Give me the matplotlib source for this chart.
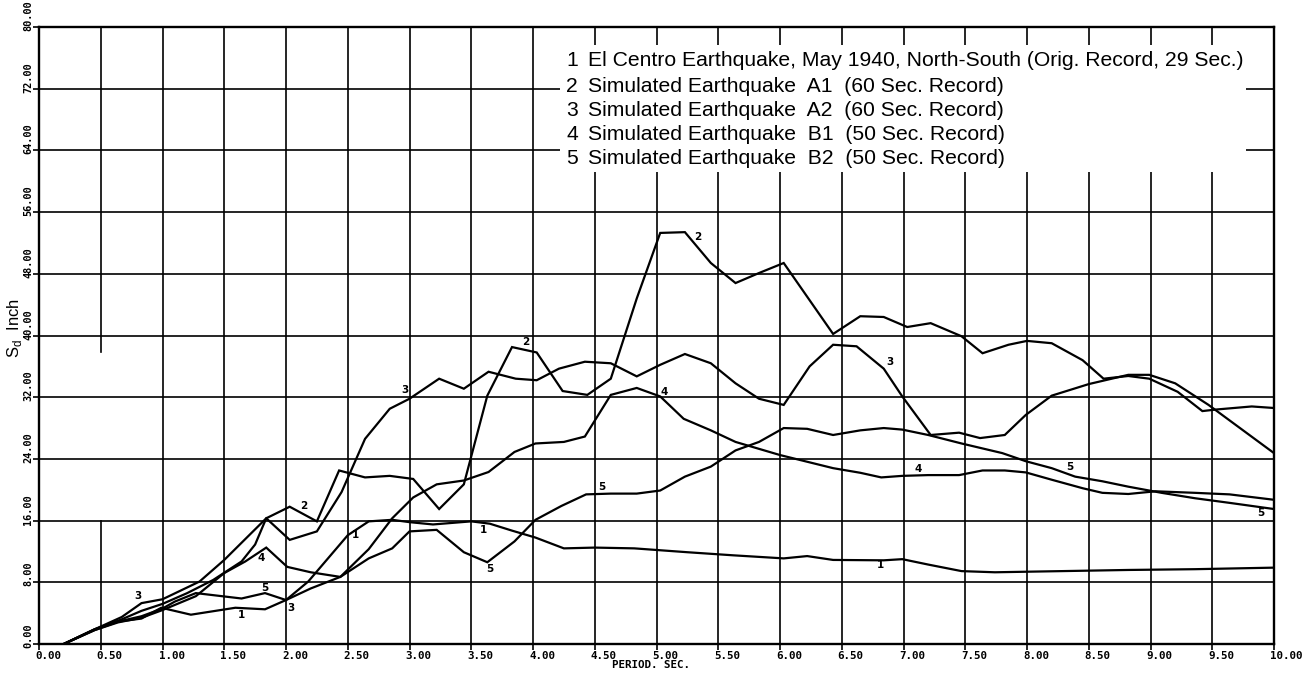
import matplotlib
matplotlib.use('Agg')
import matplotlib.pyplot as plt
from matplotlib.patches import Rectangle
from matplotlib.transforms import ScaledTranslation

# ---- data (period in sec, Sd in inch) ----
# 1 El Centro, May 1940 N-S
t1 = [0.2, 0.45, 0.64, 0.83, 0.99, 1.23, 1.59, 1.83, 2.0, 2.18, 2.34, 2.5, 2.67, 2.86, 3.0,
      3.19, 3.5, 3.65, 3.83, 4.02, 4.25, 4.5, 4.82, 5.25, 5.62, 6.03, 6.22, 6.43, 6.84, 6.99,
      7.2, 7.47, 7.74, 8.28, 8.82, 9.36, 10.0]
sd1 = [0.0, 1.9, 2.9, 3.3, 4.7, 3.8, 4.7, 4.5, 5.7, 8.1, 11.1, 14.1, 15.9, 16.1, 15.8,
       15.5, 15.9, 15.6, 14.7, 13.8, 12.4, 12.5, 12.4, 11.9, 11.5, 11.1, 11.4, 10.9, 10.85, 11.0,
       10.3, 9.45, 9.3, 9.45, 9.6, 9.7, 9.9]

# 2 Simulated A1
t2 = [0.2, 0.45, 0.67, 0.83, 1.0, 1.2, 1.41, 1.64, 1.75, 1.84, 2.03, 2.25, 2.43, 2.64, 2.84,
      3.03, 3.24, 3.44, 3.63, 3.83, 4.03, 4.24, 4.44, 4.63, 4.84, 5.03, 5.23, 5.44, 5.64, 5.83,
      6.03, 6.43, 6.65, 6.84, 7.03, 7.22, 7.47, 7.64, 7.85, 8.0, 8.2, 8.45, 8.62, 8.82, 8.99,
      9.22, 9.42, 9.53, 9.82, 10.0]
sd2 = [0.0, 1.9, 3.2, 4.3, 5.2, 6.6, 8.3, 10.7, 12.9, 16.3, 17.8, 15.9, 22.5, 21.6, 21.8,
       21.4, 17.5, 20.7, 32.2, 38.5, 37.8, 32.8, 32.3, 34.4, 44.8, 53.3, 53.4, 49.4, 46.8, 48.1,
       49.4, 40.2, 42.5, 42.4, 41.1, 41.6, 39.9, 37.7, 38.8, 39.3, 39.0, 36.8, 34.4, 34.75, 34.4,
       32.7, 30.2, 30.4, 30.8, 30.6]

# 3 Simulated A2
t3 = [0.2, 0.45, 0.67, 0.83, 1.0, 1.3, 1.5, 1.84, 2.03, 2.25, 2.45, 2.64, 2.84, 3.0, 3.24,
      3.44, 3.64, 3.86, 4.03, 4.21, 4.42, 4.63, 4.84, 5.03, 5.23, 5.44, 5.64, 5.83, 6.03, 6.24,
      6.43, 6.62, 6.84, 6.99, 7.22, 7.45, 7.62, 7.82, 7.99, 8.2, 8.5, 8.82, 8.99, 9.2, 9.47, 10.0]
sd3 = [0.0, 1.9, 3.5, 5.3, 5.8, 8.1, 10.9, 16.3, 13.5, 14.6, 19.7, 26.6, 30.5, 31.8, 34.4,
       33.1, 35.3, 34.4, 34.2, 35.7, 36.6, 36.4, 34.7, 36.2, 37.6, 36.4, 33.8, 31.8, 31.0, 36.0,
       38.8, 38.6, 35.7, 32.1, 27.1, 27.4, 26.7, 27.1, 29.7, 32.2, 33.7, 34.9, 34.9, 33.8, 31.0, 24.75]

# 4 Simulated B1
t4 = [0.2, 0.45, 0.64, 0.83, 1.0, 1.27, 1.5, 1.67, 1.84, 2.01, 2.2, 2.44, 2.67, 2.86, 3.03,
      3.22, 3.44, 3.64, 3.85, 4.02, 4.25, 4.42, 4.63, 4.84, 5.03, 5.22, 5.44, 5.64, 6.0, 6.43,
      6.65, 6.82, 6.99, 7.2, 7.45, 7.64, 7.82, 7.99, 8.2, 8.45, 8.61, 8.82, 9.04, 9.36, 9.64, 10.0]
sd4 = [0.0, 1.8, 2.8, 3.4, 4.4, 6.2, 9.2, 10.7, 12.5, 10.0, 9.3, 8.7, 12.3, 16.3, 19.0,
       20.7, 21.2, 22.3, 24.9, 26.0, 26.2, 26.9, 32.3, 33.2, 32.1, 29.2, 27.7, 26.2, 24.5, 22.8,
       22.2, 21.6, 21.8, 21.9, 21.9, 22.5, 22.5, 22.25, 21.3, 20.2, 19.6, 19.45, 19.8, 19.6, 19.4, 18.7]

# 5 Simulated B2
t5 = [0.2, 0.45, 0.64, 0.83, 1.0, 1.1, 1.27, 1.64, 1.83, 2.0, 2.2, 2.44, 2.67, 2.86, 3.0,
      3.22, 3.44, 3.63, 3.85, 4.02, 4.23, 4.43, 4.63, 4.84, 5.03, 5.23, 5.44, 5.64, 5.83, 6.03,
      6.22, 6.43, 6.65, 6.84, 6.99, 7.2, 7.47, 7.8, 7.99, 8.2, 8.39, 8.61, 8.82, 9.09, 9.36,
      9.64, 10.0]
sd5 = [0.0, 1.8, 2.9, 3.6, 4.6, 5.5, 6.6, 5.9, 6.6, 5.7, 7.2, 8.7, 11.1, 12.4, 14.6,
       14.8, 11.9, 10.6, 13.3, 16.1, 17.9, 19.4, 19.5, 19.5, 19.9, 21.7, 23.0, 25.1, 26.2, 28.0,
       27.9, 27.1, 27.7, 28.0, 27.8, 27.1, 26.0, 24.75, 23.7, 22.8, 21.7, 21.1, 20.4, 19.6, 18.9,
       18.3, 17.5]

# small curve numbers written along the lines
tag_x = [0.8, 1.64, 1.83, 1.8, 2.04, 2.14, 2.56, 2.96, 3.6, 3.65, 3.94, 4.56, 5.06, 5.33,
         6.89, 6.81, 7.12, 8.35, 9.89]
tag_y = [6.2, 3.8, 7.25, 11.15, 4.65, 17.95, 14.1, 32.9, 14.8, 9.7, 39.1, 20.4, 32.7, 52.8,
         36.5, 10.3, 22.7, 23.0, 17.0]
tag_txt = ['3', '1', '5', '4', '3', '2', '1', '3', '1', '5', '2', '5', '4', '2',
           '3', '1', '4', '5', '5']

legend_lines = ['El Centro Earthquake, May 1940, North-South (Orig. Record, 29 Sec.)',
                'Simulated Earthquake  A1  (60 Sec. Record)',
                'Simulated Earthquake  A2  (60 Sec. Record)',
                'Simulated Earthquake  B1  (50 Sec. Record)',
                'Simulated Earthquake  B2  (50 Sec. Record)']

xticks = [0.0, 0.5, 1.0, 1.5, 2.0, 2.5, 3.0, 3.5, 4.0, 4.5, 5.0, 5.5, 6.0, 6.5, 7.0, 7.5,
          8.0, 8.5, 9.0, 9.5, 10.0]
yticks = [0, 8, 16, 24, 32, 40, 48, 56, 64, 72, 80]

W, H = 1310, 677
fig = plt.figure(figsize=(W / 100, H / 100), dpi=100)
ax = fig.add_axes([39 / W, 1 - 644 / H, (1274 - 39) / W, (644 - 27) / H])
ax.set_xlim(0, 10)
ax.set_ylim(0, 80)

# grid (the 0.50 line has a break in the original)
for x in xticks[1:-1]:
    if x == 0.5:
        ax.plot([x, x], [0, 16], color='k', lw=1.2, zorder=1)
        ax.plot([x, x], [37.8, 80], color='k', lw=1.2, zorder=1)
    else:
        ax.axvline(x, color='k', lw=1.2, zorder=1)
for y in yticks[1:-1]:
    ax.axhline(y, color='k', lw=1.2, zorder=1)

# blank area behind the legend text
ax.add_patch(Rectangle((4.22, 61.2), 9.77 - 4.22, 77.7 - 61.2, facecolor='white',
                       edgecolor='none', zorder=2))

for t, s in [(t1, sd1), (t2, sd2), (t3, sd3), (t4, sd4), (t5, sd5)]:
    ax.plot(t, s, color='k', lw=1.6, zorder=3, solid_joinstyle='miter')

for x, y, s in zip(tag_x, tag_y, tag_txt):
    ax.text(x, y, s, fontsize=7.5, fontweight='bold', family='DejaVu Sans',
            ha='center', va='center', zorder=4)

# legend block
row_y = [61, 86, 110, 134, 158]
for i, (ry, txt) in enumerate(zip(row_y, legend_lines)):
    fig.text(578 / W, 1 - ry / H, str(i + 1), fontsize=15.2, family='Liberation Sans',
             ha='right', va='center')
    fig.text(588 / W, 1 - ry / H, txt, fontsize=15.2, family='Liberation Sans',
             ha='left', va='center')

for sp in ax.spines.values():
    sp.set_linewidth(1.7)

tick_font = dict(family='DejaVu Sans Mono', weight='bold', size=7.8)
ax.set_xticks(xticks)
ax.set_xticklabels(['%.2f' % v for v in xticks], fontdict=tick_font, ha='left')
ax.set_yticks(yticks)
ax.set_yticklabels(['%.2f' % v for v in yticks], fontdict=dict(tick_font, size=7.4),
                   rotation=90, va='bottom', ha='right')
ax.tick_params(axis='both', length=4, width=1.2, pad=1, direction='out')
ax.tick_params(axis='y', pad=0)
for lab in ax.get_xticklabels():
    lab.set_transform(lab.get_transform() + ScaledTranslation(-0.04, 0, fig.dpi_scale_trans))
for lab in ax.get_yticklabels():
    lab.set_transform(lab.get_transform() + ScaledTranslation(0, -0.04, fig.dpi_scale_trans))

fig.text(651 / W, 1 - 665 / H, 'PERIOD. SEC.', ha='center', va='center', **tick_font)
fig.text(15 / W, 1 - 328 / H, r'S$_\mathregular{d}$  Inch', rotation=90, ha='center',
         va='center', fontsize=12, family='Liberation Sans')

fig.savefig('out.png', dpi=100)
